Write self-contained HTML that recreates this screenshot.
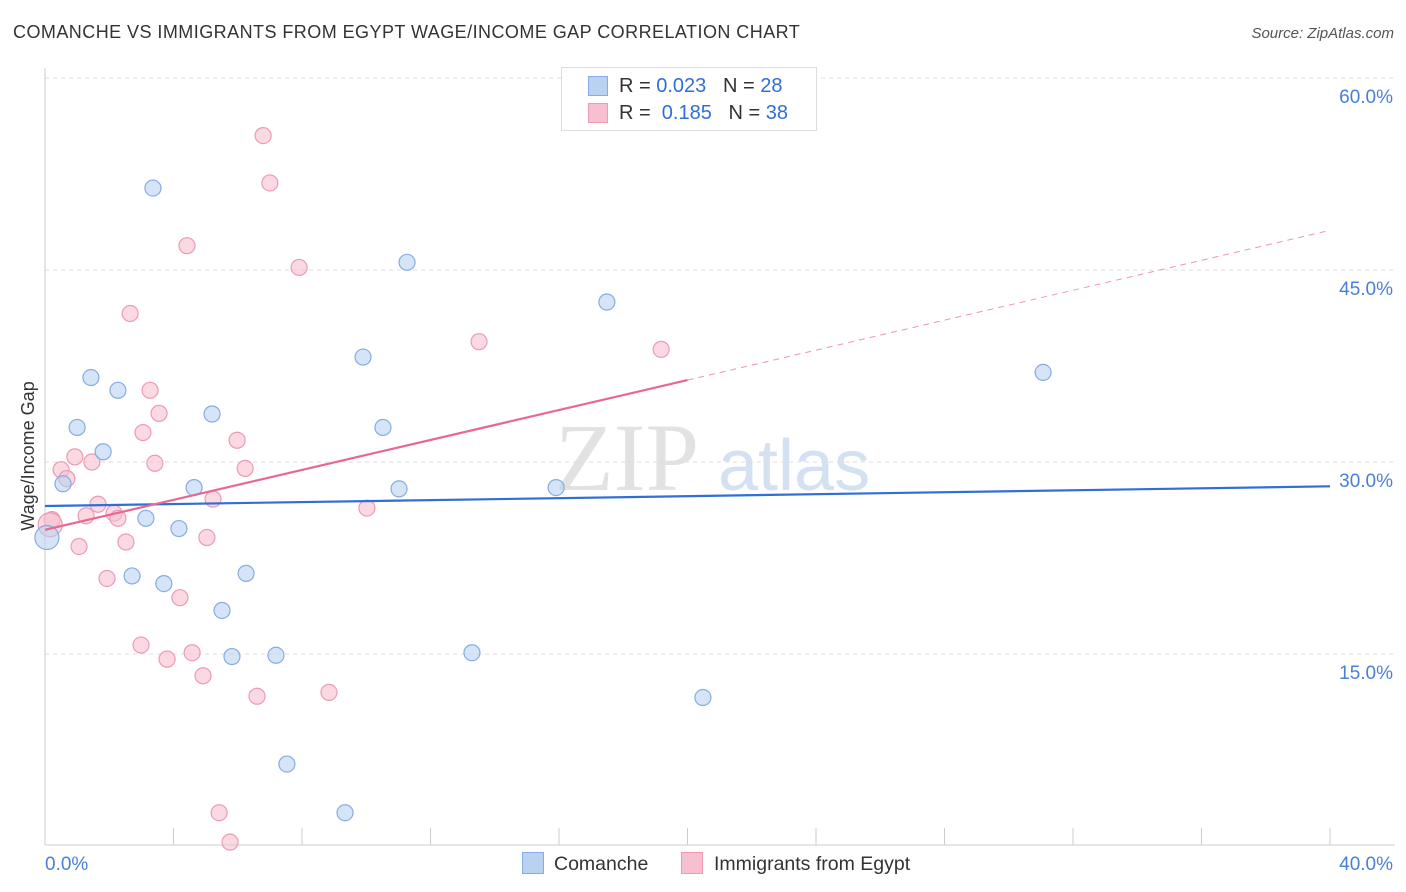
<!DOCTYPE html>
<html><head><meta charset="utf-8">
<style>
body{margin:0;background:#fff;font-family:"Liberation Sans",sans-serif;}
#wrap{position:relative;width:1406px;height:892px;overflow:hidden;}
.t{position:absolute;white-space:nowrap;}
</style></head>
<body>
<div id="wrap">
<div class="t" style="left:13px;top:22px;font-size:18px;color:#333;letter-spacing:0.45px;">COMANCHE VS IMMIGRANTS FROM EGYPT WAGE/INCOME GAP CORRELATION CHART</div>
<div class="t" style="right:12px;top:25px;font-size:15px;color:#555;font-style:italic;">Source: ZipAtlas.com</div>
<svg id="svg" width="1406" height="892" style="position:absolute;left:0;top:0"></svg>
</div>
<script>
const yTicks=[15,30,45,60];
const yTickLabels=["15.0%","30.0%","45.0%","60.0%"];
const xTickLabels=["0.0%","40.0%"];
const blueX=[3.36,11.27,17.49,9.90,31.07,1.43,2.27,5.20,1.0,10.52,1.81,0.56,4.64,11.02,15.91,3.14,4.17,0.06,2.71,3.70,6.26,5.51,5.82,7.19,13.29,20.48,7.53,9.34];
const blueY=[51.4,45.6,42.5,38.2,37.0,36.6,35.6,33.75,32.7,32.7,30.8,28.3,28.0,27.9,28.0,25.6,24.8,24.1,21.1,20.5,21.3,18.4,14.8,14.9,15.1,11.6,6.4,2.6];
const pinkX=[6.79,7.00,4.42,7.91,2.65,13.51,19.18,3.27,3.55,3.05,5.98,0.93,1.46,3.42,6.23,0.50,0.68,1.65,5.23,10.02,1.28,2.15,2.27,0.22,0.16,2.52,1.06,5.04,1.93,4.20,2.99,3.80,4.58,4.92,6.60,8.84,5.42,5.76];
const pinkY=[55.5,51.8,46.9,45.2,41.6,39.4,38.8,35.6,33.8,32.3,31.7,30.4,30.0,29.9,29.5,29.4,28.7,26.7,27.1,26.4,25.8,26.0,25.6,25.5,25.1,23.75,23.4,24.1,20.9,19.4,15.7,14.6,15.1,13.3,11.7,12.0,2.6,0.3];
const blueLine=[26.56,28.1];
const pinkLine=[24.7,48.1];
const sx=v=>45+v*32.125, sy=v=>846-v*12.8;
const svg=document.getElementById('svg');
const NS='http://www.w3.org/2000/svg';
function mk(t,a){const e=document.createElementNS(NS,t);for(const k in a)e.setAttribute(k,a[k]);svg.appendChild(e);return e;}
let w=mk('text',{x:555,y:490,'font-size':96,'font-family':'Liberation Serif',fill:'#e2e2e2'});w.textContent='ZIP';


let w2=mk('text',{x:718,y:490,'font-size':72,'font-family':'Liberation Sans',fill:'#d3e1f3'});w2.textContent='atlas';


yTicks.forEach((v,i)=>{
 let g=mk('line',{x1:45,x2:1395,y1:sy(v),y2:sy(v),stroke:'#ddd','stroke-dasharray':'4,4'});
 
 
 let t=mk('text',{x:1393,y:sy(v)+25,'text-anchor':'end','font-size':19,fill:'#4a7fd6'});t.textContent=yTickLabels[i];
 
 
});
let ax=mk('line',{x1:45,x2:1395,y1:845,y2:845,stroke:'#ccc'});


let ay=mk('line',{x1:45,x2:45,y1:68,y2:845,stroke:'#ccc'});


for(let i=1;i<=10;i++){let tk=mk('line',{x1:sx(i*4),x2:sx(i*4),y1:828,y2:845,stroke:'#ccc'});
 
 }
let xl0=mk('text',{x:45,y:870,'font-size':19,fill:'#4a7fd6'});xl0.textContent=xTickLabels[0];


let xl1=mk('text',{x:1393,y:870,'text-anchor':'end','font-size':19,fill:'#4a7fd6'});xl1.textContent=xTickLabels[1];


let yt=mk('text',{x:34,y:456,'font-size':18,fill:'#333','text-anchor':'middle',transform:'rotate(-90 34 456)'});yt.textContent='Wage/Income Gap';


function pts(X,Y,fill,stroke,name,bigIdx){X.forEach((x,i)=>{const r=i===bigIdx?12:8;
 let c=mk('circle',{cx:sx(x),cy:sy(Y[i]),r:r,fill:fill,'fill-opacity':0.6,stroke:stroke,'stroke-width':1.2});
 
 });}
pts(pinkX,pinkY,'#f7bfd0','#ee9ab4','egypt-point',24);
pts(blueX,blueY,'#b9d2f2','#86ace3','comanche-point',17);
let bl=mk('line',{x1:sx(0),y1:sy(blueLine[0]),x2:sx(40),y2:sy(blueLine[1]),stroke:'#2f6fd6','stroke-width':2.2});


const pm=v=>pinkLine[0]+(pinkLine[1]-pinkLine[0])*v/40;
let pl=mk('line',{x1:sx(0),y1:sy(pm(0)),x2:sx(20),y2:sy(pm(20)),stroke:'#e86890','stroke-width':2.2});


let pd=mk('line',{x1:sx(20),y1:sy(pm(20)),x2:sx(40),y2:sy(pm(40)),stroke:'#e86890','stroke-width':1,'stroke-dasharray':'6,5','stroke-opacity':0.7});


</script>
<div style="position:absolute;left:561px;top:67px;width:254px;height:62px;border:1px solid #ddd;background:#fff;font-size:20px;color:#333;">
 <div style="position:absolute;left:26px;top:8px;width:18px;height:18px;background:#b9d2f2;border:1px solid #86ace3;"></div>
 <div class="t" style="left:57px;top:7px;">R = <span style="color:#2f6fd6">0.023</span>&nbsp;&nbsp;&nbsp;N = <span style="color:#2f6fd6">28</span></div>
 <div style="position:absolute;left:26px;top:35px;width:18px;height:18px;background:#f7bfd0;border:1px solid #ee9ab4;"></div>
 <div class="t" style="left:57px;top:34px;">R = &nbsp;<span style="color:#2f6fd6">0.185</span>&nbsp;&nbsp;&nbsp;N = <span style="color:#2f6fd6">38</span></div>
</div>
<div style="position:absolute;left:522px;top:852px;font-size:19.5px;color:#333;">
 <div style="position:absolute;left:0;top:0;width:20px;height:20px;background:#b9d2f2;border:1px solid #86ace3;"></div>
 <div class="t" style="left:32px;top:1px;">Comanche</div>
 <div style="position:absolute;left:159px;top:0;width:20px;height:20px;background:#f7bfd0;border:1px solid #ee9ab4;"></div>
 <div class="t" style="left:192px;top:1px;">Immigrants from Egypt</div>
</div>
</body></html>
